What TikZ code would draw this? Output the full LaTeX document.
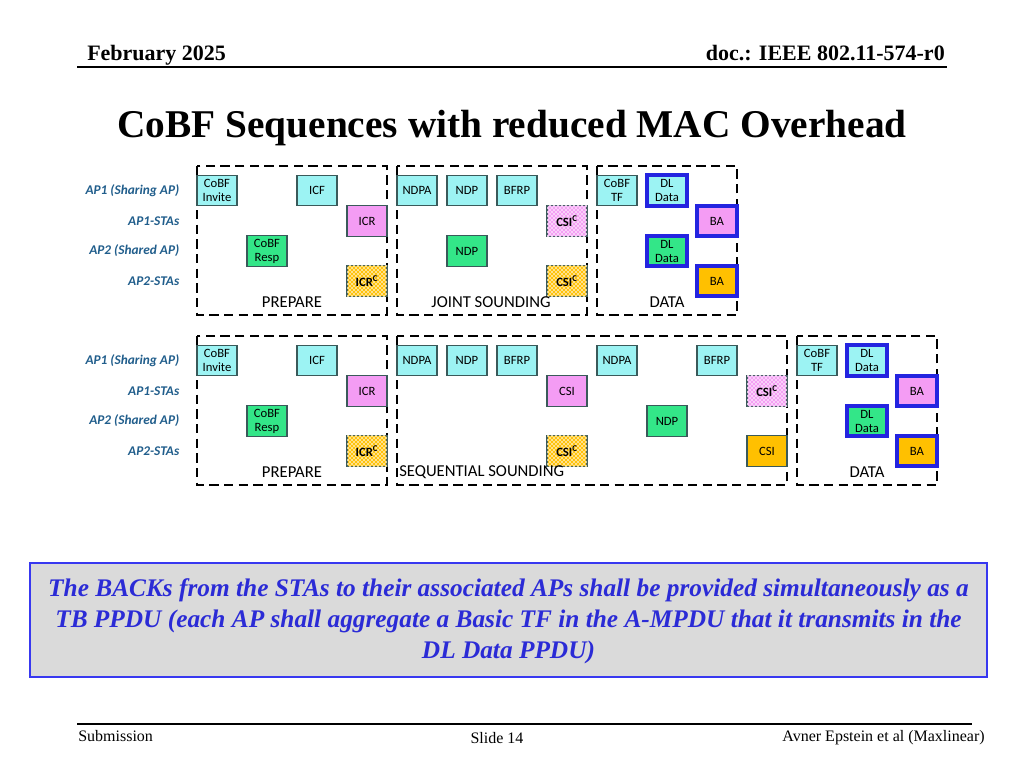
\documentclass[tikz,border=0pt]{standalone}
\usepackage{fontspec}
\setmainfont{Liberation Serif}
\newfontfamily\carl{Carlito}
\usetikzlibrary{patterns}
\definecolor{cyanbox}{HTML}{9CF3F3}
\definecolor{pinkbox}{HTML}{F49CF4}
\definecolor{greenbox}{HTML}{33E688}
\definecolor{orangebox}{HTML}{FFC000}
\definecolor{boxline}{HTML}{3A5A5A}
\definecolor{thickblue}{HTML}{2424E0}
\definecolor{labelblue}{HTML}{215E8C}
\definecolor{notegray}{HTML}{DADADA}
\definecolor{noteblue}{HTML}{2B2BD6}
\definecolor{noteborder}{HTML}{3838F0}
\tikzset{
 fr/.style={line width=1.5pt, dash pattern=on 7pt off 4pt},
 pkt/.style={draw=boxline, line width=0.8pt, minimum width=30pt, minimum height=22.8pt, inner sep=0pt, align=center, font=\carl\fontsize{9.5}{10.5}\selectfont},
 cyb/.style={pkt, fill=cyanbox},
 pkb/.style={pkt, fill=pinkbox},
 grb/.style={pkt, fill=greenbox},
 orb/.style={pkt, fill=orangebox},
 hatch/.style={postaction={pattern=north east lines, pattern color=white!65!#1}, postaction={pattern=north west lines, pattern color=white!65!#1}, font=\carl\bfseries\fontsize{9.5}{10.5}\selectfont},
 dataf/.style={draw=thickblue, line width=3pt},
 rowlab/.style={anchor=east, text=labelblue, font=\carl\bfseries\itshape\fontsize{10}{11}\selectfont},
 phase/.style={font=\carl\fontsize{12.5}{14}\selectfont},
 hdr/.style={font=\bfseries\fontsize{16.5}{18}\selectfont},
 foot/.style={font=\fontsize{12}{14}\selectfont},
}
\newcommand{\supc}[1]{#1\textsuperscript{C}}
\begin{document}
\begin{tikzpicture}[x=0.75pt,y=-0.75pt]
\fill[white] (0,0) rectangle (1024,768);
\useasboundingbox (0,0) rectangle (1024,768);
% header
\node[hdr, anchor=base west, inner sep=0pt] (date) at (87,60) {February 2025};
\node[hdr, anchor=base east, inner sep=0pt] (doc) at (945,60) {doc.: IEEE 802.11-574-r0};
\draw[line width=1.5pt] (77,67) -- (947,67);
\node[anchor=base, inner sep=0pt, font=\bfseries\fontsize{29.5}{34}\selectfont] (title) at (512,137) {CoBF Sequences with reduced MAC Overhead};
% ---------- top group ----------
\draw[fr] (197,166) rectangle (387,315);
\draw[fr] (397,166) rectangle (587,315);
\draw[fr] (597,166) rectangle (737,315);
\node[rowlab] (l1) at (184,190.5) {AP1 (Sharing AP)};
\node[rowlab] (l2) at (184,221) {AP1-STAs};
\node[rowlab] (l3) at (184,251) {AP2 (Shared AP)};
\node[rowlab] (l4) at (184,281) {AP2-STAs};
\node[cyb] (a1) at (217,190.5) {CoBF\\Invite};
\node[cyb] (a2) at (317,190.5) {ICF};
\node[pkb] (a3) at (367,221) {ICR};
\node[grb] (a4) at (267,251) {CoBF\\Resp};
\node[orb, hatch=orangebox] (a5) at (367,281) {\supc{ICR}};
\node[cyb] (a6) at (417,190.5) {NDPA};
\node[cyb] (a7) at (467,190.5) {NDP};
\node[cyb] (a8) at (517,190.5) {BFRP};
\node[pkb, hatch=pinkbox] (a9) at (567,221) {\supc{CSI}};
\node[grb] (a10) at (467,251) {NDP};
\node[orb, hatch=orangebox] (a11) at (567,281) {\supc{CSI}};
\node[cyb] (a12) at (617,190.5) {CoBF\\TF};
\node[cyb, dataf] (a13) at (667,190.5) {DL\\Data};
\node[pkb, dataf] (a14) at (717,221) {BA};
\node[grb, dataf] (a15) at (667,251) {DL\\Data};
\node[orb, dataf] (a16) at (717,281) {BA};
\node[phase] (p1) at (292,302) {PREPARE};
\node[phase] (p2) at (491,302) {JOINT SOUNDING};
\node[phase] (p3) at (667,302) {DATA};
% ---------- bottom group ----------
\draw[fr] (197,336) rectangle (387,485);
\draw[fr] (397,336) rectangle (787,485);
\draw[fr] (797,336) rectangle (937,485);
\node[rowlab] (m1) at (184,360.5) {AP1 (Sharing AP)};
\node[rowlab] (m2) at (184,391) {AP1-STAs};
\node[rowlab] (m3) at (184,421) {AP2 (Shared AP)};
\node[rowlab] (m4) at (184,451) {AP2-STAs};
\node[cyb] (b1) at (217,360.5) {CoBF\\Invite};
\node[cyb] (b2) at (317,360.5) {ICF};
\node[pkb] (b3) at (367,391) {ICR};
\node[grb] (b4) at (267,421) {CoBF\\Resp};
\node[orb, hatch=orangebox] (b5) at (367,451) {\supc{ICR}};
\node[cyb] (b6) at (417,360.5) {NDPA};
\node[cyb] (b7) at (467,360.5) {NDP};
\node[cyb] (b8) at (517,360.5) {BFRP};
\node[pkb] (b9) at (567,391) {CSI};
\node[orb, hatch=orangebox] (b10) at (567,451) {\supc{CSI}};
\node[cyb] (b11) at (617,360.5) {NDPA};
\node[cyb] (b12) at (717,360.5) {BFRP};
\node[pkb, hatch=pinkbox] (b13) at (767,391) {\supc{CSI}};
\node[grb] (b14) at (667,421) {NDP};
\node[orb] (b15) at (767,451) {CSI};
\node[cyb] (b16) at (817,360.5) {CoBF\\TF};
\node[cyb, dataf] (b17) at (867,360.5) {DL\\Data};
\node[pkb, dataf] (b18) at (917,391) {BA};
\node[grb, dataf] (b19) at (867,421) {DL\\Data};
\node[orb, dataf] (b20) at (917,451) {BA};
\node[phase] (q1) at (292,472) {PREPARE};
\node[phase, anchor=west, inner sep=0pt] (q2) at (399,472) {SEQUENTIAL SOUNDING};
\node[phase] (q3) at (867,472) {DATA};
% ---------- note ----------
\node[draw=noteborder, line width=1.5pt, fill=notegray, minimum width=717.75pt, minimum height=85.5pt, inner sep=0pt] (notebox) at (508.5,620) {};
\node[text=noteblue, align=center, font=\bfseries\itshape\fontsize{19}{23.25}\selectfont] (note) at (508.5,621) {The BACKs from the STAs to their associated APs shall be provided simultaneously as a\\TB PPDU (each AP shall aggregate a Basic TF in the A-MPDU that it transmits in the\\DL Data PPDU)};
% ---------- footer ----------
\draw[line width=1.2pt] (77,724) -- (972,724);
\node[foot, anchor=base west, inner sep=0pt] (sub) at (78,741) {Submission};
\node[foot, anchor=base, inner sep=0pt] (slide) at (497,743) {Slide 14};
\node[foot, anchor=base east, inner sep=0pt] (auth) at (985,741) {Avner Epstein et al (Maxlinear)};
\end{tikzpicture}
\end{document}
